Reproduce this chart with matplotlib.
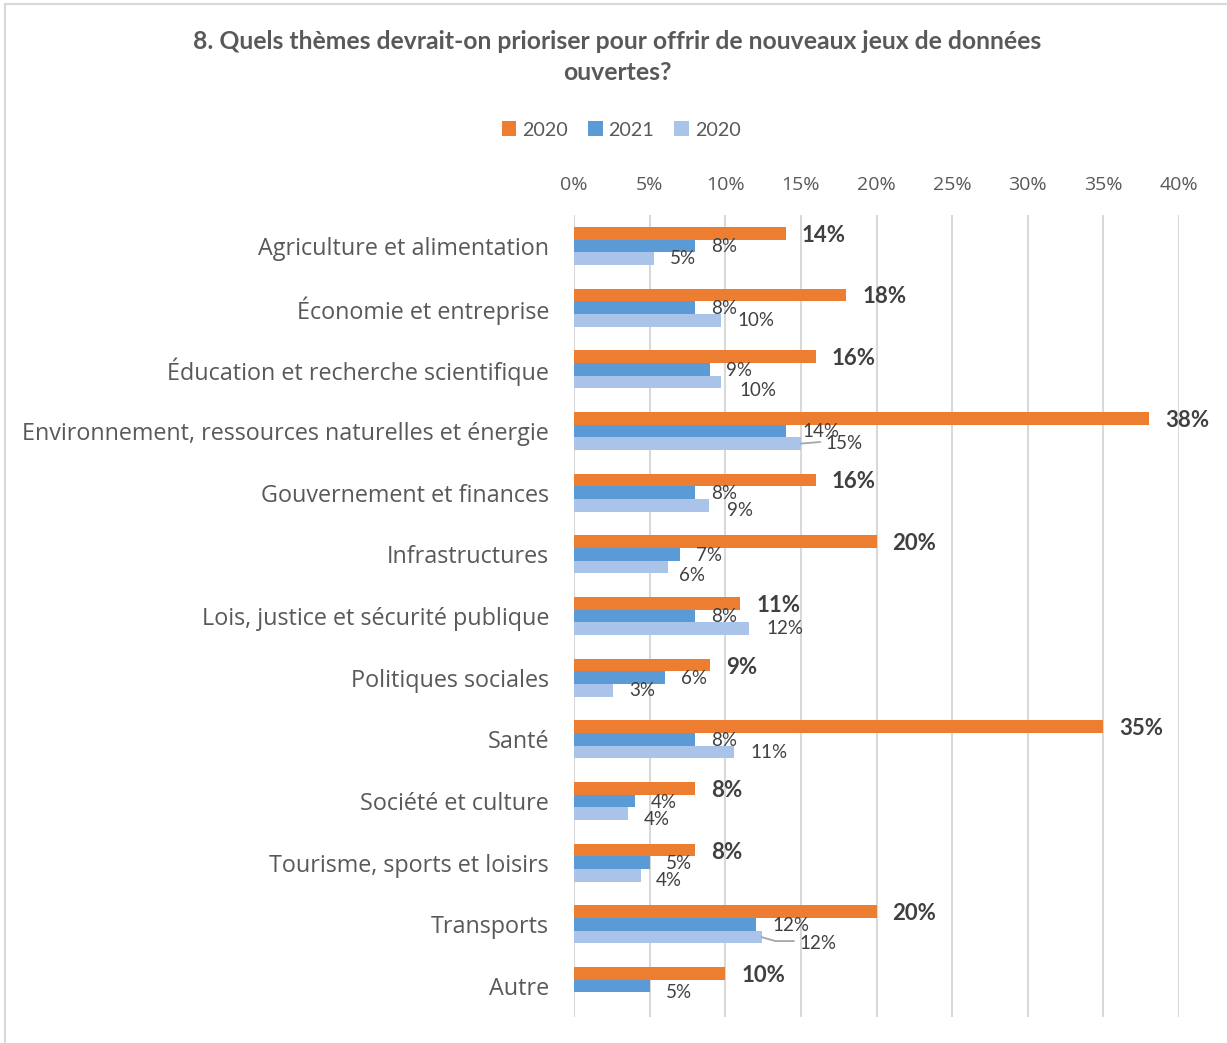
import matplotlib
matplotlib.use("Agg")
import matplotlib.pyplot as plt
from matplotlib.patches import Rectangle, Patch
import numpy as np

categories = [
    "Agriculture et alimentation",
    "Économie et entreprise",
    "Éducation et recherche scientifique",
    "Environnement, ressources naturelles et énergie",
    "Gouvernement et finances",
    "Infrastructures",
    "Lois, justice et sécurité publique",
    "Politiques sociales",
    "Santé",
    "Société et culture",
    "Tourisme, sports et loisirs",
    "Transports",
    "Autre",
]
series_names = ["2020", "2021", "2020"]
vals_a = [14, 18, 16, 38, 16, 20, 11, 9, 35, 8, 8, 20, 10]
vals_b = [8, 8, 9, 14, 8, 7, 8, 6, 8, 4, 5, 12, 5]
vals_c = [5.3, 9.7, 9.7, 15, 8.9, 6.2, 11.6, 2.6, 10.6, 3.6, 4.4, 12.4, None]
xticks = [0, 5, 10, 15, 20, 25, 30, 35, 40]

# label placement tweaks (pixels): x offset from bar end, y offset (down positive)
lab_b_dx = [16, 16, 16, 17, 16, 16, 16, 16, 16, 16, 16, 17, 16]
lab_b_dy = [1, 1, 1, 1, 1, 1, 1, 1, 1, 1, 1, 1, 6]
lab_c_dx = [16, 17, 19, 25, 18, 11, 17, 16, 16, 15, 15, 38, 16]
lab_c_dy = [0, 0, 9, 0, 5, 9, 0, 0, 0, 6, 5, 6, 0]
leader_c = [None, None, None, "straight", None, None, None, None, None, None, None, "bent", None]

C_A = "#ED7D31"
C_B = "#5B9BD5"
C_C = "#A9C4E8"
GRID = "#D9D9D9"
TXT = "#595959"
DTXT = "#404040"

W, H = 1227, 1043
DPI = 100
PX = 72.0 / DPI

fig = plt.figure(figsize=(W / DPI, H / DPI), dpi=DPI)
fig.patch.set_facecolor("white")

ax_left, ax_right = 574 / W, 1179 / W
ax_top, ax_bot = 1 - 215 / H, 1 - 1017 / H
ax = fig.add_axes([ax_left, ax_bot, ax_right - ax_left, ax_top - ax_bot])

n = len(categories)
y = np.arange(n)
bh = 0.205

ax.barh(y - bh, vals_a, height=bh, color=C_A, zorder=3)
ax.barh(y, vals_b, height=bh, color=C_B, zorder=3)
c_y = [yy + bh for yy, v in zip(y, vals_c) if v is not None]
c_v = [v for v in vals_c if v is not None]
ax.barh(c_y, c_v, height=bh, color=C_C, zorder=3)

ax.set_xlim(0, 40)
ax.set_ylim(n - 0.5, -0.5)
ax.set_xticks(xticks)
ax.set_xticklabels([f"{t}%" for t in xticks])
ax.xaxis.tick_top()
ax.set_yticks(y)
ax.set_yticklabels(categories)
ax.tick_params(axis="x", length=0, pad=15, labelsize=14, labelcolor=TXT)
ax.tick_params(axis="y", length=0, pad=18, labelsize=16.8, labelcolor=TXT)
for lab in ax.get_xticklabels() + ax.get_yticklabels():
    lab.set_fontfamily("Open Sans")
for s in ax.spines.values():
    s.set_visible(False)
ax.grid(axis="x", color=GRID, linewidth=1.5, zorder=0)
ax.set_axisbelow(True)

# data labels
for i in range(n):
    ax.annotate(f"{vals_a[i]:.0f}%", xy=(vals_a[i], y[i] - bh), xytext=(16 * PX, -2 * PX),
                textcoords="offset points", ha="left", va="center",
                fontsize=16, fontweight="bold", color=DTXT, family="Lato", zorder=5)
    ax.annotate(f"{vals_b[i]:.0f}%", xy=(vals_b[i], y[i]), xytext=(lab_b_dx[i] * PX, -lab_b_dy[i] * PX),
                textcoords="offset points", ha="left", va="center",
                fontsize=13.5, color=DTXT, family="Lato", zorder=5)
    if vals_c[i] is not None:
        kw = {}
        if leader_c[i] == "straight":
            kw["arrowprops"] = dict(arrowstyle="-", color="#A6A6A6", lw=1.3,
                                    shrinkA=2, shrinkB=0, relpos=(0, 0.62))
        elif leader_c[i] == "bent":
            kw["arrowprops"] = dict(arrowstyle="-", color="#A6A6A6", lw=1.3,
                                    shrinkA=2, shrinkB=0, relpos=(0, 0.62),
                                    connectionstyle="angle,angleA=0,angleB=-16,rad=0")
        ax.annotate(f"{round(vals_c[i]):.0f}%", xy=(vals_c[i], y[i] + bh),
                    xytext=(lab_c_dx[i] * PX, -lab_c_dy[i] * PX),
                    textcoords="offset points", ha="left", va="center",
                    fontsize=13.5, color=DTXT, family="Lato", zorder=5, **kw)

# title
fig.text(617.5 / W, 1 - 42 / H, "8. Quels thèmes devrait-on prioriser pour offrir de nouveaux jeux de données",
         ha="center", va="center", fontsize=17.8, fontweight="bold", color=TXT, family="Lato")
fig.text(617.5 / W, 1 - 73 / H, "ouvertes?",
         ha="center", va="center", fontsize=17.8, fontweight="bold", color=TXT, family="Lato")

# legend
handles = [Patch(facecolor=c, edgecolor="none") for c in (C_A, C_B, C_C)]
leg = fig.legend(handles, series_names, loc="center", bbox_to_anchor=(621 / W, 1 - 130 / H),
                 ncol=3, frameon=False, handlelength=0.75, handleheight=0.75,
                 handletextpad=0.3, columnspacing=1.0,
                 prop={"family": "Lato", "size": 14.2})
for t in leg.get_texts():
    t.set_color(TXT)

# chart border
fig.add_artist(Rectangle((5 / W, -0.05), 1.1, 1 - 4 / H + 0.05, transform=fig.transFigure,
                         facecolor="none", edgecolor=GRID, linewidth=1.5))

fig.savefig("out.png", dpi=DPI, facecolor="white")
